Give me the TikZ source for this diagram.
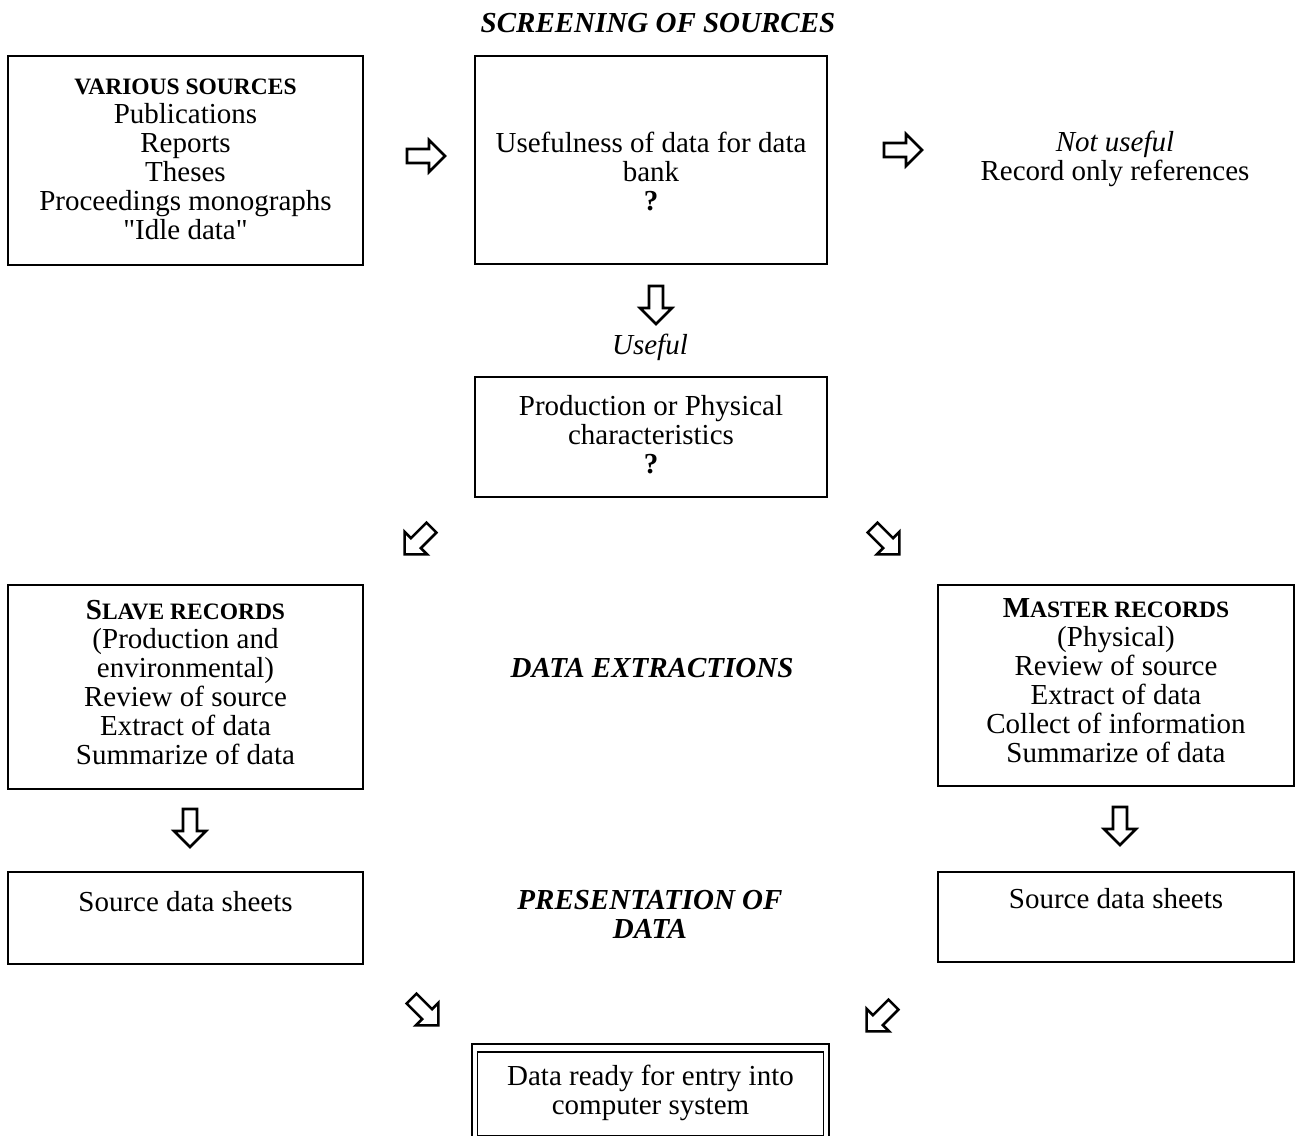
\documentclass[tikz,border=0pt]{standalone}
\usepackage{fontspec}
\setmainfont{Liberation Serif}
\newcommand\txt{\fontsize{29}{29}\selectfont}
\newcommand\scA{\fontsize{29}{29}\selectfont\bfseries}
\newcommand\scB{\fontsize{23.5}{29}\selectfont\bfseries}
\newcommand\sq{\XeTeXglyph\XeTeXcharglyph"22\relax}
\tikzset{
  box/.style={draw, line width=2.2pt, inner sep=0pt},
  lbl/.style={anchor=base, align=center, inner sep=0pt, font=\txt},
  head/.style={lbl, font=\txt\bfseries\itshape},
  harrow/.pic={\draw[line width=2.6pt, line join=miter]
     (-19,-7) -- (3,-7) -- (3,-16) -- (19,0) -- (3,16) -- (3,7) -- (-19,7) -- cycle;}
}
\begin{document}
\begin{tikzpicture}[x=1pt,y=-1pt]
\useasboundingbox (0,0) rectangle (1295,1135);
% title
\node[head] (t1) at (658,32) {SCREENING OF SOURCES};
% row 1
\node[box, minimum width=355pt, minimum height=209pt] (src) at (185.5,160.5) {};
\node[lbl] (srct) at (185.5,239) {{\scB VARIOUS SOURCES}\\Publications\\Reports\\Theses\\Proceedings monographs\\\sq Idle data\sq};
\node[box, minimum width=352pt, minimum height=208pt] (use) at (651,160) {};
\node[lbl] (uset) at (651,210) {Usefulness of data for data\\bank\\\textbf{?}};
\node[lbl] (nu) at (1115,180) {\textit{Not useful}\\Record only references};
\pic at (426,156) {harrow};
\pic at (903,150) {harrow};
\pic[rotate=-90] at (656,305) {harrow};
\node[lbl] (useful) at (650,354) {\textit{Useful}};
% production
\node[box, minimum width=352pt, minimum height=120pt] (prod) at (651,437) {};
\node[lbl] (prodt) at (651,473) {Production or Physical\\characteristics\\\textbf{?}};
\pic[rotate=-135] at (418,541) {harrow};
\pic[rotate=-45] at (886,541) {harrow};
% records
\node[box, minimum width=355pt, minimum height=204pt] (slave) at (185.5,687) {};
\node[lbl] (slavet) at (185.5,764) {{\scA S}{\scB LAVE RECORDS}\\(Production and\\environmental)\\Review of source\\Extract of data\\Summarize of data};
\node[head] (dx) at (652,677) {DATA EXTRACTIONS};
\node[box, minimum width=356pt, minimum height=201pt] (master) at (1116,685.5) {};
\node[lbl] (mastert) at (1116,762) {{\scA M}{\scB ASTER RECORDS}\\(Physical)\\Review of source\\Extract of data\\Collect of information\\Summarize of data};
\pic[rotate=-90] at (190,828) {harrow};
\pic[rotate=-90] at (1120,826) {harrow};
% data sheets
\node[box, minimum width=355pt, minimum height=92pt] (sdl) at (185.5,918) {};
\node[lbl] (sdlt) at (185.5,911) {Source data sheets};
\node[box, minimum width=356pt, minimum height=90pt] (sdr) at (1116,917) {};
\node[lbl] (sdrt) at (1116,908) {Source data sheets};
\node[head] (pres) at (650,938) {PRESENTATION OF\\DATA};
\pic[rotate=-45] at (425,1012) {harrow};
\pic[rotate=-135] at (880,1018) {harrow};
% final
\node[box, minimum width=357pt, minimum height=94pt] (fin) at (650.5,1091) {};
\node[box, line width=1.5pt, minimum width=346pt, minimum height=84pt] (fini) at (650.5,1094) {};
\node[lbl] (fint) at (650.5,1114) {Data ready for entry into\\computer system};
\end{tikzpicture}
\end{document}
